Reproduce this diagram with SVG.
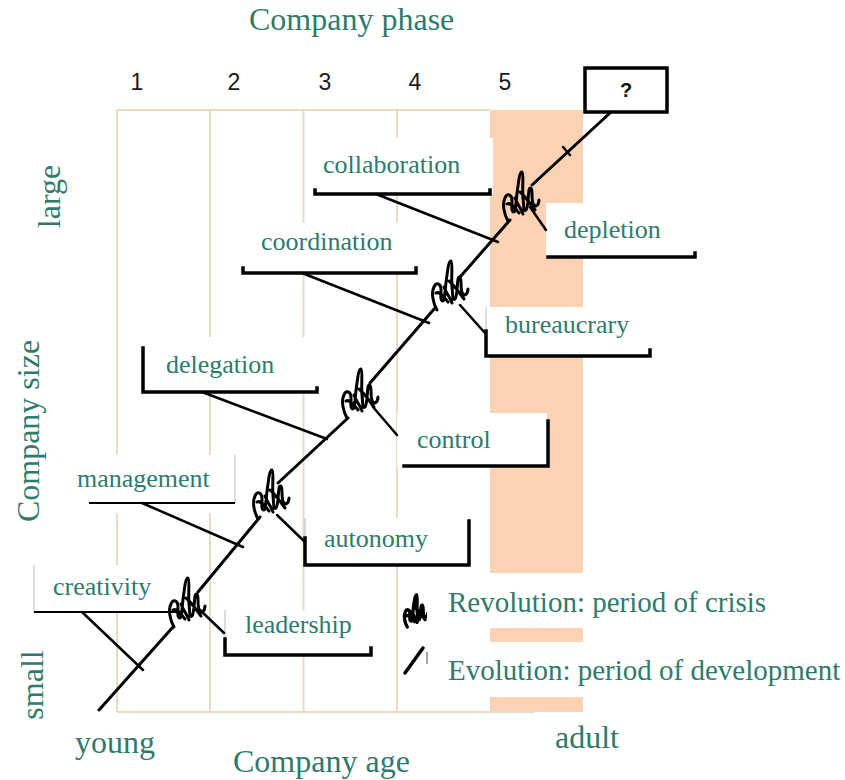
<svg xmlns="http://www.w3.org/2000/svg" width="845" height="780" viewBox="0 0 845 780">
<style>
.t{font-family:"Liberation Serif","Times New Roman",serif;fill:#2e7b6e}
.lab{font-size:26px}
.big{font-size:32px}
.leg{font-size:29px}
.num{font-family:"Liberation Sans",Arial,sans-serif;font-size:23px;fill:#1a1a1a;text-anchor:middle}
.grid{stroke:#e6dcc5;stroke-width:2;fill:none}
.box{fill:#fff}
.bk{stroke:#000;stroke-width:3.5;fill:none;stroke-linecap:square}
.bt{stroke:#000;stroke-width:1.8;fill:none}
.gr{stroke:#b8b8b8;stroke-width:1;fill:none}
.ln{stroke:#000;stroke-width:3;fill:none;stroke-linecap:round}
.cn{stroke:#000;stroke-width:2.5;fill:none;stroke-linecap:round}
.sq{stroke:#000;stroke-width:3;fill:none;stroke-linecap:round;stroke-linejoin:round}
</style>
<defs>
<path id="squig" d="M5,53 C1,46 -1,36 2,30 C4,25 9,26 9,33 C9,38 8,44 11,44 C13,44 13,30 15,18 C16,10 17,4 19,4 C21,5 19,20 20,30 C21,38 20,44 23,42 C25,40 25,30 26,22 C27,18 29,20 29,26 C29,32 30,38 33,38 C35,37 36,34 36,32 M4,36 C8,34 12,40 16,45 M17,24 C22,28 26,34 32,42 M12,30 C14,36 18,40 20,46"/>
</defs>
<rect width="845" height="780" fill="#fff"/>
<g id="chart">
<rect x="490" y="110" width="93" height="602" fill="#fbd3b4"/>
<path class="grid" d="M117,110 V712 M210,110 V712 M303.5,110 V712 M397,110 V712 M117,110 H490 M117,712 H535"/>
</g>
<g id="title"><text class="t big" x="249" y="30">Company phase</text></g>
<g id="phases">
<text class="num" x="137" y="90">1</text>
<text class="num" x="234" y="90">2</text>
<text class="num" x="325" y="90">3</text>
<text class="num" x="415" y="90">4</text>
<text class="num" x="505" y="90">5</text>
</g>
<g id="axis-labels">
<text class="t big" text-anchor="middle" transform="translate(60,196.5) rotate(-90)">large</text>
<text class="t big" text-anchor="middle" transform="translate(39,431) rotate(-90)">Company size</text>
<text class="t big" text-anchor="middle" transform="translate(43,685) rotate(-90)">small</text>
<text class="t big" x="75" y="753">young</text>
<text class="t big" x="233" y="772">Company age</text>
<text class="t big" x="555" y="748">adult</text>
</g>
<g id="node-creativity">
<rect class="box" x="34" y="565" width="148" height="47"/>
<path class="gr" d="M34,565 V612"/>
<path class="bt" d="M34,612 H182"/>
<text class="t lab" x="53" y="595">creativity</text>
</g>
<g id="node-leadership">
<rect class="box" x="224" y="610" width="147" height="45"/>
<path class="gr" d="M225,610 V638"/>
<path class="bk" d="M225,639 V655 H371 V648"/>
<text class="t lab" x="245" y="633">leadership</text>
</g>
<g id="node-management">
<rect class="box" x="60" y="455" width="175" height="58"/>
<path class="gr" d="M235,455 V503"/>
<path class="bt" d="M89,503 H235"/>
<text class="t lab" x="77" y="487">management</text>
</g>
<g id="node-autonomy">
<rect class="box" x="305" y="518" width="164" height="47"/>
<path class="gr" d="M305,518 V537"/>
<path class="bk" d="M305,538 V565 H469 V521"/>
<text class="t lab" x="324" y="547">autonomy</text>
</g>
<g id="node-delegation">
<rect class="box" x="143" y="337" width="177" height="55"/>
<path class="bk" d="M143,348 V392 H317 V388"/>
<text class="t lab" x="166" y="373">delegation</text>
</g>
<g id="node-control">
<rect class="box" x="397" y="413" width="150" height="54"/>
<path class="bk" d="M404,466 H548 V421"/>
<text class="t lab" x="417" y="448">control</text>
</g>
<g id="node-coordination">
<rect class="box" x="240" y="223" width="177" height="50"/>
<path class="bk" d="M243,268 V273 H416 V268"/>
<text class="t lab" x="261" y="250">coordination</text>
</g>
<g id="node-bureaucrary">
<rect class="box" x="485" y="307" width="166" height="50"/>
<path class="gr" d="M486,307 V329"/>
<path class="bk" d="M486,331 V356 H650 V350"/>
<text class="t lab" x="505" y="333">bureaucrary</text>
</g>
<g id="node-collaboration">
<rect class="box" x="305" y="138" width="188" height="56"/>
<path class="bk" d="M315,190 V194 H490 V190"/>
<text class="t lab" x="323" y="173">collaboration</text>
</g>
<g id="node-depletion">
<rect class="box" x="546" y="203" width="149" height="54"/>
<path class="bk" d="M548,257 H695 V253"/>
<text class="t lab" x="564" y="238">depletion</text>
</g>
<g id="node-unknown">
<rect x="585" y="68" width="82" height="44" fill="#fff" stroke="#000" stroke-width="3.5"/>
<text x="626" y="97" font-family="'Liberation Sans',Arial,sans-serif" font-size="20" font-weight="bold" text-anchor="middle" fill="#111">?</text>
</g>
<g id="connectors">
<path class="ln" d="M99,710 L173,627 M198,592 L260,517 M278,483 L348,418 M370,383 L435,308 M460,277 L510,220 M532,185 L611,112"/>
<path class="cn" d="M563,147 L570,155"/>
<path class="cn" d="M82,612 L143,670 M142,503 L243,547 M202,392 L327,439 M302,273 L429,323 M376,194 L498,242"/>
<path class="cn" d="M200,610 L224,633 M277,515 L305,542 M373,407 L397,435 M460,305 L485,333 M530,207 L546,230"/>
</g>
<g id="crises">
<use href="#squig" class="sq" transform="translate(169,574)"/>
<use href="#squig" class="sq" transform="translate(253,466)"/>
<use href="#squig" class="sq" transform="translate(342,365)"/>
<use href="#squig" class="sq" transform="translate(432,257)"/>
<use href="#squig" class="sq" transform="translate(503,168)"/>
</g>
<g id="legend">
<use href="#squig" class="sq" transform="translate(404,592) scale(0.66)" style="stroke-width:5"/>
<rect class="box" x="427" y="573" width="418" height="55"/>
<rect class="box" x="427" y="642" width="418" height="55"/>
<path class="ln" d="M405,673 L423,648" style="stroke-width:3.5"/>
<path class="gr" d="M427,652 V664" style="stroke:#888;stroke-width:1.5"/>
<text class="t leg" x="448" y="612">Revolution: period of crisis</text>
<text class="t leg" x="448" y="680">Evolution: period of development</text>
</g>
</svg>
